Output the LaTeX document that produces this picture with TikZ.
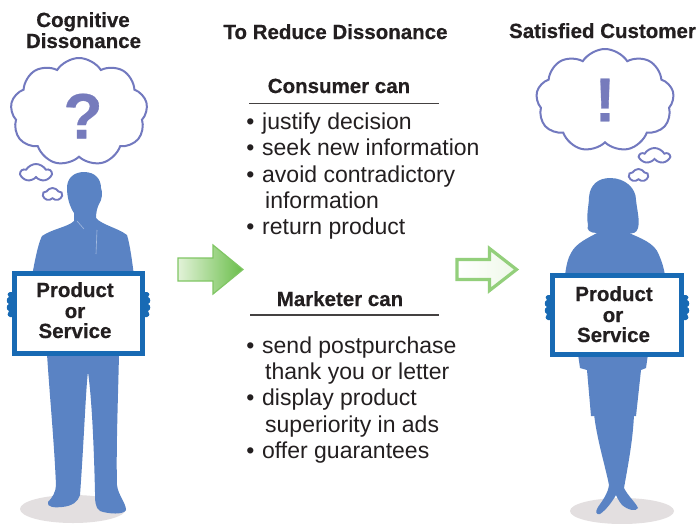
\documentclass[tikz,border=0pt]{standalone}
\usepackage{fontspec}
\setmainfont{Liberation Sans}[BoldFeatures={FakeBold=0.5}]
\usetikzlibrary{shapes.symbols}

\definecolor{inkblack}{RGB}{35,31,32}
\definecolor{figblue}{RGB}{90,131,196}
\definecolor{signblue}{RGB}{24,106,180}
\definecolor{thought}{RGB}{114,121,191}
\definecolor{markfill}{RGB}{118,123,188}
\definecolor{floorgray}{RGB}{227,223,224}
\definecolor{greenlight}{RGB}{226,242,216}
\definecolor{greendark}{RGB}{106,190,74}
\definecolor{greenedge}{RGB}{128,198,100}
\definecolor{greenpale}{RGB}{238,248,232}

\tikzset{
  heading/.style={font=\fontsize{20.5}{21}\selectfont\bfseries, text=inkblack, inner sep=0pt, anchor=base},
  signtext/.style={font=\fontsize{20.5}{21}\selectfont\bfseries, text=inkblack, inner sep=0pt, anchor=base},
  listitem/.style={font=\fontsize{23}{26}\selectfont, text=inkblack, inner sep=0pt, anchor=base west},
  bulletdot/.style={font=\fontsize{23}{26}\selectfont, text=inkblack, inner sep=0pt, anchor=base},
  headrule/.style={draw=inkblack!85, line width=1.1pt},
  bigcloud/.style={cloud, cloud puffs=9, cloud puff arc=115, cloud ignores aspect,
    draw=thought, line width=2pt, fill=white, inner sep=0pt},
  smallcloud/.style={cloud, cloud puffs=5, cloud puff arc=120, cloud ignores aspect,
    draw=thought, line width=1.9pt, fill=white, inner sep=0pt},
  thoughtmark/.style={font=\fontsize{64}{64}\selectfont\bfseries, text=markfill, inner sep=0pt},
  signboard/.style={draw=signblue, line width=5pt, fill=white, inner sep=0pt},
  silhouette/.style={fill=figblue},
  floorshadow/.style={fill=floorgray},
  grip/.pic={
    \fill[signblue] (1,-13) -- (-2,-13)
      .. controls (-5,-12) and (-5,-9) .. (-3,-8)
      .. controls (-6,-7) and (-6,-2) .. (-3,-1)
      .. controls (-6,0) and (-6,5) .. (-3,6)
      .. controls (-5,8) and (-5,11) .. (-2,12) -- (1,12) -- cycle;
  }
}

\begin{document}
\begin{tikzpicture}[x=1pt, y=-1pt]
\useasboundingbox (0,0) rectangle (700,523);
\fill[white] (0,0) rectangle (700,523);

% ---------------- left figure: doubtful buyer ----------------
\fill[floorshadow] (73,509) ellipse [x radius=53, y radius=14];
% legs
\fill[silhouette] (47,354) -- (119,354)
  .. controls (118,400) and (116,450) .. (117,485)
  .. controls (118,495) and (126,503) .. (126,510)
  .. controls (124,515) and (108,514) .. (100,511)
  .. controls (95,508) and (95,500) .. (95,492)
  .. controls (94,450) and (92,400) .. (88,372)
  .. controls (86,385) and (84,440) .. (80,495)
  .. controls (78,502) and (72,506) .. (62,507)
  .. controls (55,508) and (46,507) .. (48,502)
  .. controls (52,498) and (56,492) .. (56,485)
  .. controls (54,440) and (50,400) .. (47,354) -- cycle;
% head and torso
\fill[silhouette] (74,213)
  .. controls (70,207) and (67,198) .. (67,188)
  .. controls (67,178) and (74,172) .. (84,172)
  .. controls (95,172) and (101,179) .. (101,188)
  .. controls (103,192) and (102,200) .. (99,204)
  .. controls (97,208) and (96,213) .. (96,218)
  .. controls (102,225) and (118,228) .. (127,235)
  .. controls (130,245) and (132,260) .. (134,276)
  -- (32,276)
  .. controls (35,260) and (38,244) .. (42,236)
  .. controls (52,229) and (68,227) .. (74,221) -- cycle;
\draw[figblue!55!white, line width=0.6pt] (77,221) -- (84,229);
\draw[figblue!55!white, line width=0.6pt] (97,230) -- (96,254);

% sign
\node[signboard, minimum width=128, minimum height=80] (signL) at (78.5,313.5) {};
\pic at (12,305) {grip};
\pic[xscale=-1] at (145,305) {grip};
\node[signtext] (signL1) at (75,297) {Product};
\node[signtext] (signL2) at (75,318) {or};
\node[signtext] (signL3) at (75,338) {Service};

% thought clouds
\node[bigcloud, minimum width=137, minimum height=108] (cloudL) at (79,112) {};
\node[smallcloud, minimum width=30, minimum height=18] (puffL1) at (36,173) {};
\node[smallcloud, minimum width=19, minimum height=13] (puffL2) at (52.5,194.5) {};
\node[thoughtmark] (qmark) at (83,116) {?};

\node[heading] (cogA) at (83,27) {Cognitive};
\node[heading] (cogB) at (83.5,48) {Dissonance};

% ---------------- middle column ----------------
\node[heading] (reduce) at (335.5,39) {To Reduce Dissonance};

\node[heading] (consumer) at (339,93) {Consumer can};
\coordinate (ruleCa) at (249,103.3);
\coordinate (ruleCb) at (439,103.3);
\draw[headrule] (ruleCa) -- (ruleCb);

\node[bulletdot] (b1) at (250.5,129.5) {\textbullet};
\node[listitem] (c1) at (262,129.5) {justify decision};
\node[bulletdot] (b2) at (250.5,155.5) {\textbullet};
\node[listitem] (c2) at (262,155.5) {seek new information};
\node[bulletdot] (b3) at (250.5,182) {\textbullet};
\node[listitem] (c3) at (262,182) {avoid contradictory};
\node[listitem] (c3b) at (265,208) {information};
\node[bulletdot] (b4) at (250.5,234.5) {\textbullet};
\node[listitem] (c4) at (262,234.5) {return product};

\node[heading] (marketer) at (340,306) {Marketer can};
\coordinate (ruleMa) at (250,315);
\coordinate (ruleMb) at (439,315);
\draw[headrule] (ruleMa) -- (ruleMb);

\node[bulletdot] (b5) at (250.5,353) {\textbullet};
\node[listitem] (m1) at (262,353) {send postpurchase};
\node[listitem] (m1b) at (265,379) {thank you or letter};
\node[bulletdot] (b6) at (250.5,405) {\textbullet};
\node[listitem] (m2) at (262,405) {display product};
\node[listitem] (m2b) at (265,432) {superiority in ads};
\node[bulletdot] (b7) at (250.5,458) {\textbullet};
\node[listitem] (m3) at (262,458) {offer guarantees};

% ---------------- arrows ----------------
\shade[left color=greenlight, right color=greendark, draw=greenedge, line width=1.2pt, line join=miter]
  (178,258) -- (213,258) -- (213,245) -- (243,269.5) -- (213,294) -- (213,281) -- (178,281) -- cycle;
\shade[left color=white, right color=greenpale, draw=greenedge!85!white, line width=3.2pt, line join=miter]
  (457,259.5) -- (489.5,259.5) -- (489.5,248.5) -- (516.5,269.5) -- (489.5,290.5) -- (489.5,279.5) -- (457,279.5) -- cycle;

% ---------------- right figure: satisfied customer ----------------
\fill[floorshadow] (622,511) ellipse [x radius=52, y radius=13];
% legs
\fill[silhouette] (594,414) -- (634,414)
  .. controls (633,440) and (628,465) .. (624,488)
  .. controls (628,496) and (636,503) .. (638,508)
  .. controls (636,512) and (628,510) .. (622,505)
  .. controls (618,500) and (617,497) .. (616,495)
  .. controls (612,502) and (606,510) .. (600,514)
  .. controls (596,515) and (595,512) .. (598,507)
  .. controls (603,500) and (608,493) .. (609,485)
  .. controls (605,465) and (597,440) .. (594,414) -- cycle;
% skirt
\fill[silhouette] (578,354) -- (648,354) -- (646,368) -- (641,370) -- (636,416)
  -- (591,416) -- (587,370) -- (580,368) -- cycle;
% head, hair and torso
\fill[silhouette] (597,233)
  .. controls (590,233) and (586,230) .. (588,225)
  .. controls (586,215) and (589,205) .. (589,197)
  .. controls (590,185) and (598,178) .. (610,178)
  .. controls (625,178) and (636,188) .. (636,200)
  .. controls (637,210) and (640,220) .. (638,228)
  .. controls (637,233) and (632,234) .. (629,233)
  .. controls (640,238) and (655,243) .. (659,255)
  .. controls (662,262) and (664,268) .. (665,276)
  -- (565,276)
  .. controls (566,266) and (568,258) .. (571,253)
  .. controls (576,243) and (588,238) .. (597,233) -- cycle;

% sign
\node[signboard, minimum width=129, minimum height=79] (signR) at (617,315) {};
\pic at (550,308) {grip};
\pic[xscale=-1] at (684,308) {grip};
\node[signtext] (signR1) at (614,301) {Product};
\node[signtext] (signR2) at (613,322) {or};
\node[signtext] (signR3) at (613.5,342) {Service};

% thought clouds
\node[bigcloud, minimum width=138, minimum height=103] (cloudR) at (605,100.5) {};
\node[smallcloud, minimum width=29, minimum height=16] (puffR1) at (654.5,156) {};
\node[smallcloud, minimum width=19, minimum height=13] (puffR2) at (638.5,175.5) {};
\node[thoughtmark, font=\fontsize{62}{62}\selectfont\bfseries] (emark) at (605,100) {!};

\node[heading] (satisfied) at (602.5,38) {Satisfied Customer};
\end{tikzpicture}
\end{document}
